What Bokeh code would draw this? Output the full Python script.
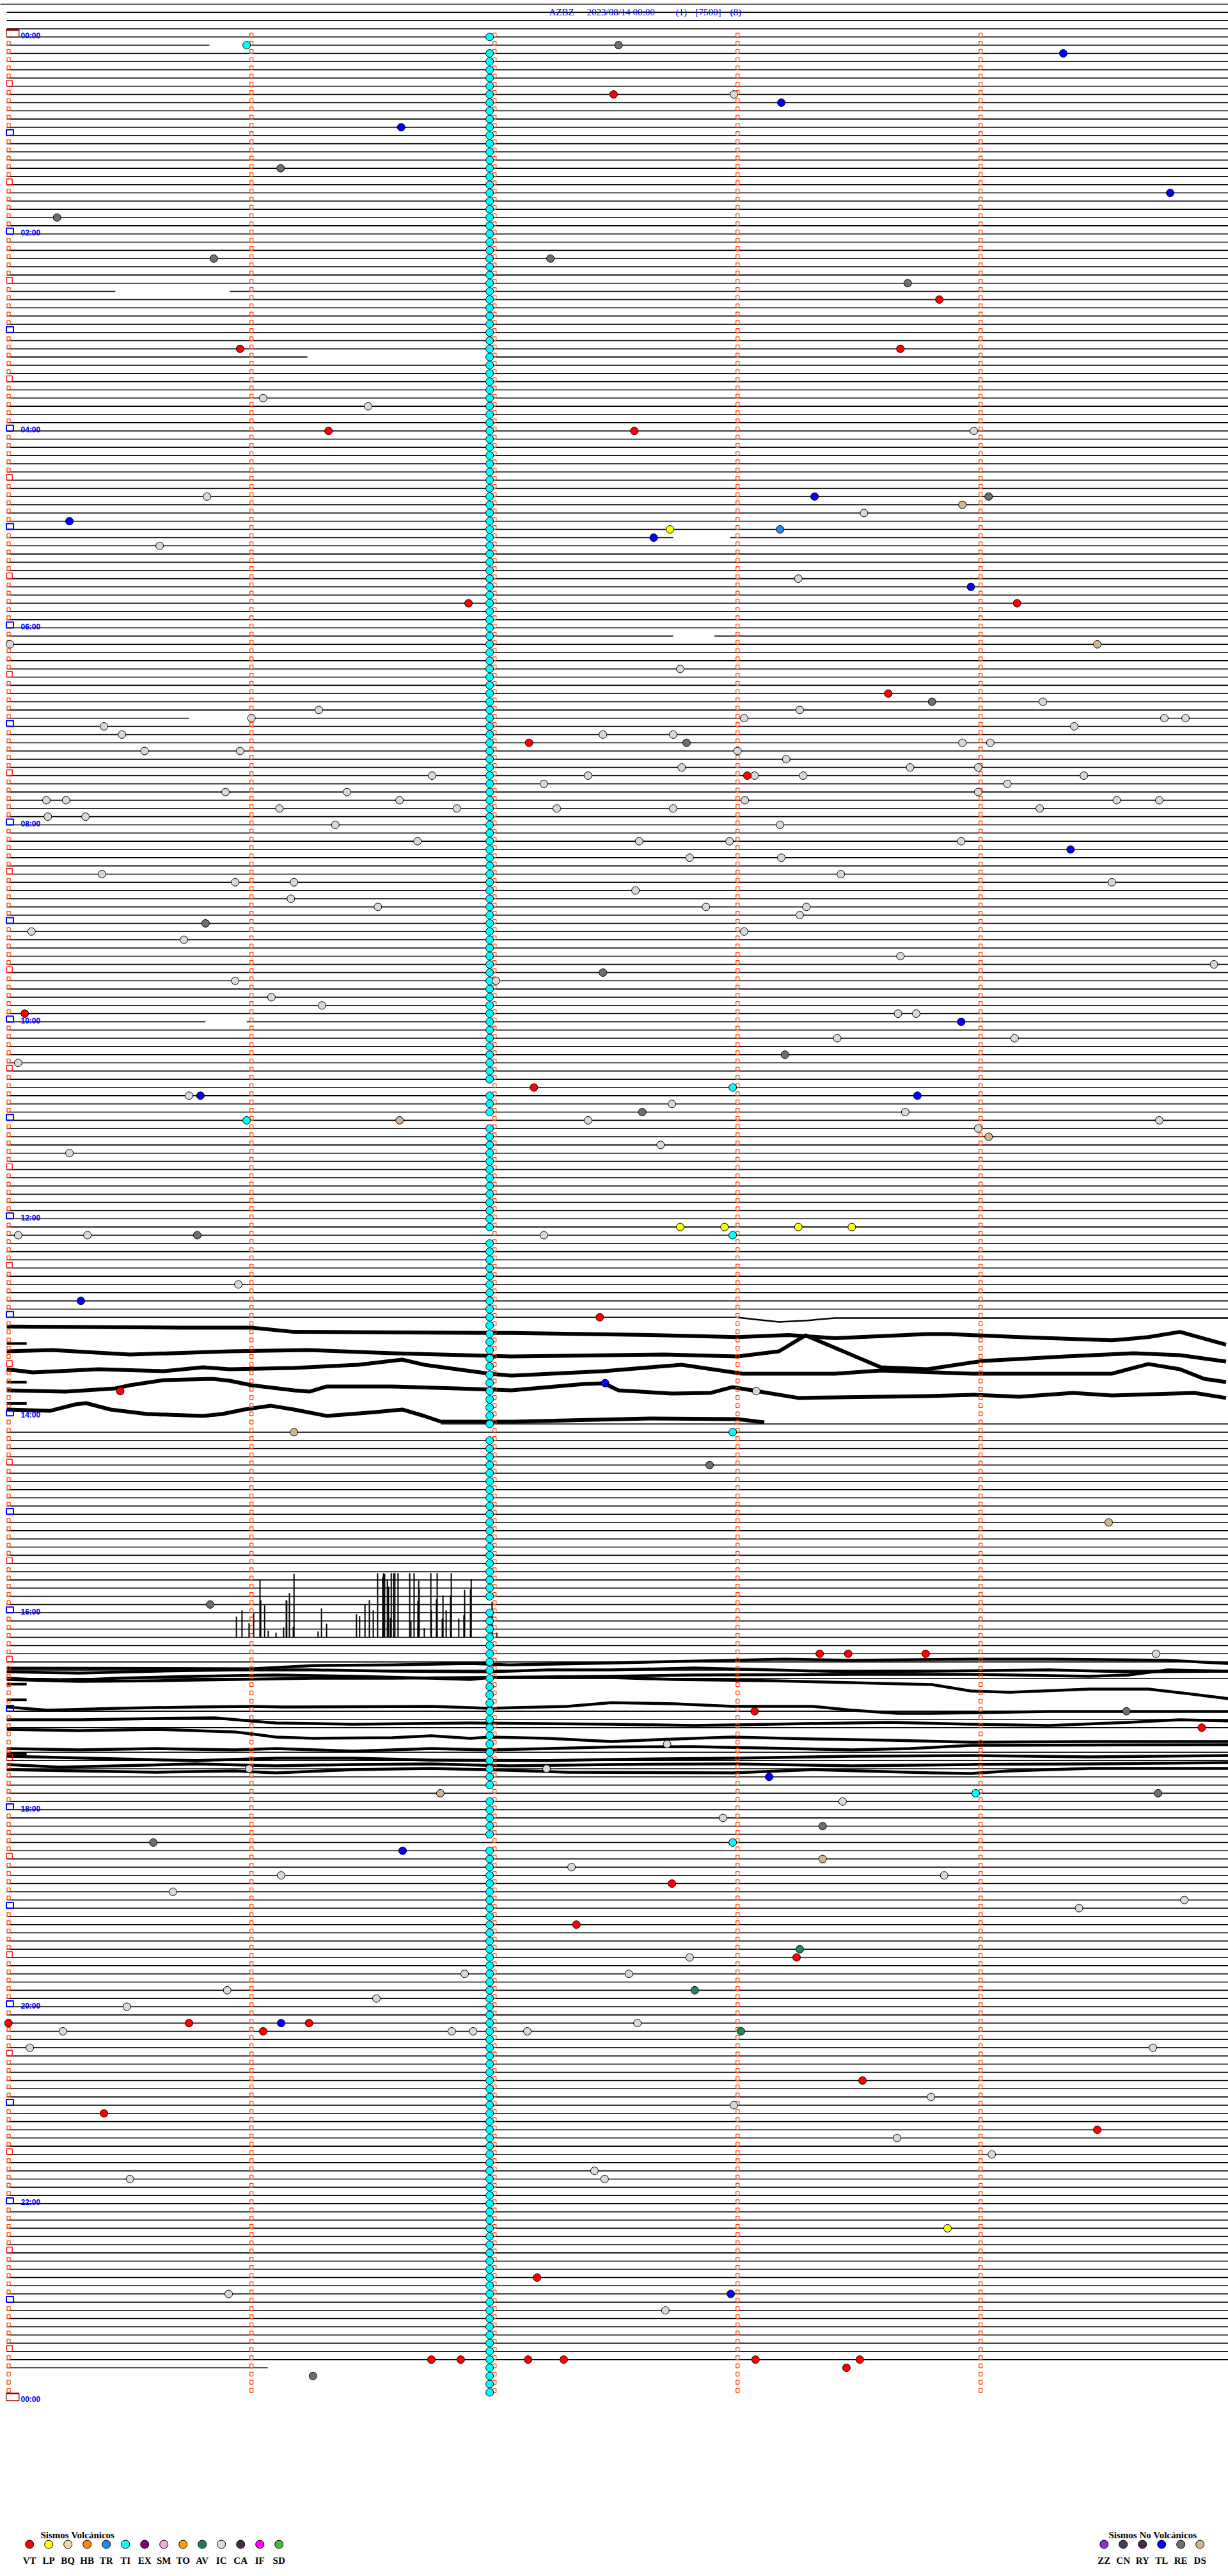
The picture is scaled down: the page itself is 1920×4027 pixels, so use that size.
from bokeh.plotting import figure
from bokeh.models import Range1d
from bokeh.core.properties import value
from bokeh.embed import file_html
from bokeh.resources import INLINE

# ------------------------------------------------------------------ data
TITLE_PARTS = ["AZBZ", "2023/08/14 00:00", "(1)", "[7500]", "(8)"]
HOUR_LABELS = ["00:00", "02:00", "04:00", "06:00", "08:00", "10:00", "12:00",
               "14:00", "16:00", "18:00", "20:00", "22:00", "00:00"]
ROW_MINUTES = 5            # each helicorder row = 5 minutes
ROWS_PER_HOUR = 12
FIRST_ROW = -4
LAST_ROW = 284
ROW_T0, ROW_T1 = -0.007, 5.02

# rows whose flat trace is replaced by a displaced/noisy trace
ROWS_NO_FLAT = list(range(157, 169)) + [201, 202, 203, 207, 208]
# partial rows (start, end) in minutes
ROW_SPANS = {-4: (-0.04, ROW_T1), 156: (ROW_T0, 3.0), 169: (1.78, ROW_T1), 284: (ROW_T0, 1.067)}
# data gaps (row, t_start, t_end)
ROW_GAPS = [(1, 0.827, 0.967), (31, 0.44, 0.91), (39, 1.23, 1.99),
            (61, 2.735, 2.97), (73, 2.735, 2.905), (83, 0.743, 0.988),
            (120, 0.811, 0.98)]

# noisy traces: row, times (min), offsets (rows, + = down)
TR_156 = dict(row=156, w=2.5,
              t=[3.0, 3.07, 3.17, 3.28, 3.40, 5.02],
              off=[0.02, 0.25, 0.56, 0.41, 0.09, 0.09])
TR_157 = dict(row=157, w=6,
              t=[-0.007, 0.70, 1.0, 1.175, 1.98, 2.07, 2.64, 3.0, 3.21, 3.40, 3.78, 3.87, 4.16, 4.54, 4.69, 4.82, 5.01],
              off=[0.13, 0.26, 0.26, 0.78, 0.90, 0.90, 1.16, 1.42, 1.16, 1.55, 1.05, 1.05, 1.42, 1.81, 1.42, 0.78, 2.34])
TR_159 = dict(row=159, w=6,
              t=[-0.007, 0.18, 0.50, 0.91, 1.23, 1.58, 2.07, 2.70, 3.0, 3.17, 3.28, 3.59, 3.78, 4.01, 4.35, 4.63, 4.82, 5.01],
              off=[1.15, 0.99, 1.54, 1.15, 0.99, 1.38, 1.77, 1.54, 1.77, 1.15, -0.80, 3.09, 3.33, 2.31, 1.77, 1.38, 1.61, 2.39])
TR_162 = dict(row=162, w=6,
              t=[-0.007, 0.10, 0.37, 0.64, 0.80, 0.91, 1.175, 1.44, 1.62, 1.71, 1.845, 1.98, 2.07, 2.45, 2.77, 3.02, 3.40, 3.59, 3.97, 4.54, 4.69, 4.82, 4.92, 5.01],
              off=[0.33, 0.72, 0.33, 0.56, 0.09, 0.33, 0.17, -0.22, -0.84, -0.22, 0.33, 0.87, 1.11, 0.56, -0.22, 0.87, 0.87, 0.48, 0.87, 0.87, -0.30, 0.33, 1.50, 1.89])
TR_165 = dict(row=165, w=6,
              t=[-0.007, 0.235, 0.44, 0.50, 0.64, 0.84, 0.91, 1.0, 1.175, 1.24, 1.31, 1.58, 1.845, 2.07, 2.37, 2.45, 2.51, 2.73, 2.89, 2.98, 3.06, 3.25, 3.78, 3.97, 4.16, 4.38, 4.54, 4.88, 5.01],
              off=[-0.10, 0.05, -0.34, -0.72, -1.35, -1.50, -1.27, -0.72, -0.10, 0.05, -0.57, -0.57, -0.34, -0.10, -0.88, -0.96, -0.10, 0.29, 0.21, -0.49, -0.10, 0.83, 0.60, 0.44, 0.68, 0.21, 0.52, 0.21, 0.83])
TR_168 = dict(row=168, w=6,
              t=[-0.007, 0.17, 0.275, 0.32, 0.42, 0.57, 0.80, 0.88, 0.97, 1.08, 1.175, 1.31, 1.51, 1.62, 1.71, 1.78, 2.07, 2.64, 3.0, 3.11],
              off=[-0.76, -0.60, -1.38, -1.54, -0.76, -0.21, 0.02, -0.21, -0.76, -1.22, -0.76, 0.02, -0.44, -0.76, 0.02, 0.72, 0.72, 0.34, 0.41, 0.80])
TR_200 = dict(row=200, w=4.5,
              t=[-0.007, 0.29, 0.61, 0.93, 1.256, 1.58, 1.90, 2.48, 2.82, 3.47, 3.96, 4.45, 4.61, 4.77, 5.02],
              off=[0.13, 0.37, 0.29, 0.13, -0.02, -0.02, -0.10, -0.26, -0.41, -0.49, -0.49, -0.26, -0.41, -1.04, -0.88])
TR_201 = dict(row=201, w=4.5,
              t=[-0.007, 1.0, 1.256, 1.58, 1.90, 2.06, 2.48, 3.19, 3.47, 3.96, 4.28, 4.77, 5.02],
              off=[-2.26, -2.18, -2.57, -2.65, -2.81, -2.65, -2.88, -3.35, -3.20, -3.35, -3.35, -3.20, -2.81])
TR_202 = dict(row=202, w=4.5,
              t=[-0.007, 0.29, 0.61, 0.93, 1.256, 1.58, 1.98, 2.22, 2.48, 2.82, 3.14, 3.47, 3.80, 4.28, 4.61, 5.02],
              off=[-2.80, -2.64, -2.88, -3.03, -3.03, -2.88, -2.80, -3.03, -3.03, -3.27, -3.03, -2.80, -2.88, -3.03, -2.80, -2.88])
TR_203 = dict(row=203, w=4.5,
              t=[-0.007, 0.21, 0.45, 0.77, 1.10, 1.42, 1.74, 1.90, 1.98, 2.48, 2.74, 3.14, 3.80, 3.96, 4.12, 4.45, 4.69, 4.85, 5.02],
              off=[-3.02, -2.71, -3.02, -3.26, -3.41, -3.26, -3.02, -2.87, -3.10, -3.10, -2.87, -2.71, -2.24, -1.47, -1.31, -1.70, -1.70, -1.15, -0.53])
TR_204 = dict(row=204, w=4.5,
              t=[-0.007, 0.16, 0.45, 0.77, 1.0, 1.13, 1.74, 1.98, 2.30, 2.48, 2.74, 2.98, 3.31, 3.47, 3.66, 3.80, 3.96, 4.28, 4.61, 5.02],
              off=[-0.51, -0.12, -0.36, -0.51, -0.59, -0.51, -0.59, -0.36, -0.59, -1.05, -0.90, -0.59, -0.59, -0.12, 0.27, 0.27, 0.19, 0.03, 0.03, 0.03])
TR_205 = dict(row=205, w=4.5,
              t=[-0.007, 0.29, 0.61, 0.85, 1.0, 1.10, 1.42, 1.90, 2.48, 2.82, 3.14, 3.63, 3.96, 4.28, 4.61, 4.82, 5.02],
              off=[0.04, 0.04, -0.12, -0.19, 0.19, 0.43, 0.58, 0.43, 0.58, 0.74, 0.58, 0.35, 0.58, 0.74, 0.35, 0.04, 0.19])
TR_206 = dict(row=206, w=4.5,
              t=[-0.007, 0.29, 0.61, 0.77, 0.93, 1.0, 1.10, 1.256, 1.58, 1.74, 1.90, 1.98, 2.22, 2.48, 2.82, 2.98, 3.31, 3.63, 3.96, 4.45, 5.02],
              off=[0.21, 0.37, 0.21, 0.37, 0.52, 0.76, 1.15, 1.30, 1.22, 0.99, 1.30, 1.15, 1.30, 1.69, 1.30, 1.15, 1.38, 1.54, 1.77, 1.69, 1.69])
TR_208 = dict(row=208, w=4.5,
              t=[-0.007, 0.29, 0.61, 0.93, 1.10, 1.42, 1.74, 1.98, 2.22, 2.48, 2.82, 3.22, 3.47, 3.71, 3.96, 5.02],
              off=[0.55, 0.70, 0.55, 0.70, 0.55, 0.86, 0.55, 0.70, 0.55, 0.35, 0.31, 0.55, 0.70, 0.55, 0.16, 0.08])
TR_210 = dict(row=210, w=4.5,
              t=[-0.007, 0.77, 1.10, 1.42, 1.74, 2.22, 2.48, 2.98, 3.47, 3.96, 4.45, 5.02],
              off=[-0.52, 0.02, -0.29, -0.29, -0.05, 0.02, -0.13, -0.29, -0.52, -0.60, -0.44, -0.60])
TR_211 = dict(row=211, w=4.5,
              t=[-0.007, 0.21, 0.45, 0.77, 1.10, 1.42, 1.74, 2.06, 2.48, 2.98, 3.47, 3.96, 4.45, 5.02],
              off=[-0.51, -0.19, -0.35, -0.58, -0.35, -0.51, -0.58, -0.35, -0.51, -0.58, -0.35, -0.51, -0.58, -0.74])
TR_212 = dict(row=212, w=4.5,
              t=[-0.007, 0.29, 0.61, 0.93, 1.10, 1.42, 1.74, 2.06, 2.30, 2.98, 3.31, 3.80, 3.96, 4.12, 4.45, 5.02],
              off=[-0.88, -0.72, -0.57, -0.72, -0.49, -0.88, -1.04, -0.80, -0.57, -0.49, -0.88, -0.49, -0.41, -0.72, -1.04, -1.04])
TRACES = [TR_156, TR_157, TR_159, TR_162, TR_165, TR_168, TR_200, TR_201, TR_202,
          TR_203, TR_204, TR_205, TR_206, TR_208, TR_210, TR_211, TR_212]
# short wrap stubs at row start (row, offset)
STUBS = [(159, 0.2), (162, 0.5), (164, -0.1), (166, 0.5), (200, 0.7), (202, 0.6), (209, 0.2)]
STUB_T = (ROW_T0, 0.075)

# spikes on row 195 (16:15): time (min), amplitude (rows)
SPIKE_ROW = 195
SPIKE_T = [0.938, 0.961, 0.990, 1.009, 1.035, 1.038, 1.054, 1.069, 1.101, 1.132, 1.143, 1.145,
           1.156, 1.175, 1.172, 1.274, 1.288, 1.309, 1.432, 1.445, 1.467, 1.485, 1.501, 1.519,
           1.540, 1.543, 1.548, 1.559, 1.564, 1.572, 1.575, 1.585, 1.590, 1.603, 1.651, 1.656,
           1.669, 1.685, 1.685, 1.688, 1.690, 1.711, 1.738, 1.740, 1.761, 1.764, 1.785, 1.788,
           1.801, 1.819, 1.822, 1.853, 1.874, 1.877, 1.901, 1.904, 1.990, 2.009]
SPIKE_AMP = [2.52, 3.30, 1.74, 2.91, 6.96, 4.54, 3.92, 0.80, 0.57, 1.19, 4.54, 4.46,
             5.40, 7.74, 1.27, 0.72, 3.53, 1.66, 2.83, 2.60, 4.08, 4.54, 3.30, 7.82,
             7.35, 7.82, 7.74, 7.04, 6.18, 2.36, 7.82, 7.82, 7.82, 7.82, 7.82, 1.97,
             7.82, 1.35, 4.46, 6.88, 6.02, 1.12, 7.82, 3.30, 4.62, 7.82, 2.28, 5.09,
             3.30, 5.09, 7.82, 2.28, 2.68, 5.79, 5.87, 7.12, 4.31, 0.57]

# periodic TI events: one per row at this minute, except shifted / missing rows
TI_COLUMN_T = 1.98
TI_ROWS = (0, 287)
TI_SHIFTED = [(1, 0.98), (128, 2.98), (132, 0.98), (146, 2.98), (170, 2.98), (214, 3.98), (220, 2.98)]
TI_MISSING = [191]

# events (row, minute)
VT = [(7, 2.49), (32, 3.83), (38, 0.953), (38, 3.67), (48, 1.317), (48, 2.575), (69, 1.893),
      (69, 4.15), (80, 3.62), (86, 2.142), (90, 3.04), (119, 0.067), (128, 2.162), (156, 2.433),
      (165, 0.46), (197, 3.338), (197, 3.455), (197, 3.774), (204, 3.07), (206, 4.91), (225, 2.73),
      (230, 2.337), (234, 3.243), (242, 0.0), (242, 0.743), (242, 1.237), (243, 1.048), (249, 3.514),
      (253, 0.393), (255, 4.48), (273, 2.175), (283, 1.74), (283, 1.861), (283, 2.138), (283, 2.285),
      (283, 3.074), (283, 3.503), (284, 3.448)]
LP = [(60, 2.722), (145, 2.764), (145, 2.946), (145, 3.25), (145, 3.47), (267, 3.864)]
TR = [(60, 3.175)]
AV = [(233, 3.256), (238, 2.824), (243, 3.014)]
TL = [(2, 4.34), (8, 3.18), (11, 1.616), (19, 4.78), (56, 3.317), (59, 0.251), (61, 2.655),
      (67, 3.96), (99, 4.37), (120, 3.92), (129, 3.74), (129, 0.79), (154, 0.298), (164.02, 2.455),
      (212, 3.13), (221, 1.622), (242, 1.122), (275, 2.972)]
RE = [(1, 2.51), (16, 1.12), (22, 0.20), (27, 0.845), (27, 2.23), (30, 3.70), (56, 4.033),
      (81, 3.80), (86, 2.79), (108, 0.811), (114, 2.446), (124, 3.195), (131, 2.608), (146, 0.777),
      (174, 2.885), (191, 0.83), (204, 4.60), (214, 4.73), (218, 3.35), (220, 0.596), (285, 1.253)]
DS = [(57, 3.925), (74, 4.48), (132, 1.609), (134, 4.033), (170, 1.175), (181, 4.527),
      (214, 1.777), (222, 3.35)]
IC = [(7, 2.985), (44, 1.048), (45, 1.48), (48, 3.972), (56, 0.817), (58, 3.52), (62, 0.622),
      (66, 3.25), (74, 0.006), (77, 2.764), (81, 4.256), (82, 1.277), (83, 1.0), (84, 0.393),
      (85, 0.467), (83, 4.756), (83, 4.843), (84, 4.385), (85, 2.735), (83, 3.027), (85, 2.446),
      (82, 3.256), (86, 3.925), (86, 4.04), (87, 0.56), (87, 0.953), (87, 3.0), (88, 3.2),
      (89, 2.77), (89, 3.71), (89, 3.99), (90, 1.743), (90, 2.385), (90, 3.07), (90, 3.27),
      (90, 4.425), (91, 2.203), (91, 4.11), (92, 0.893), (92, 1.393), (92, 3.99), (93, 0.156),
      (93, 0.237), (93, 1.609), (94, 1.115), (94, 1.845), (94, 2.256), (94, 2.735), (94, 4.243),
      (93, 4.56), (93, 4.735), (93, 3.03), (95, 0.162), (95, 0.317), (96, 1.345), (96, 3.175),
      (98, 3.92), (98, 1.683), (98, 2.595), (98, 2.967), (100, 2.803), (100, 3.18), (102, 0.385),
      (103, 0.933), (103, 1.175), (102, 3.425), (103, 4.54), (104, 2.58), (105, 1.162), (106, 1.52),
      (106, 2.87), (106, 3.283), (107, 3.256), (109, 3.027), (109, 0.095), (110, 0.722), (112, 3.67),
      (113, 4.96), (115, 0.933), (115, 2.006), (117, 1.082), (118, 1.29), (119, 3.66), (119, 3.735),
      (125, 0.04), (122, 3.41), (122, 4.14), (129, 0.743), (130, 2.73), (131, 3.69), (132, 2.385),
      (132, 4.735), (133, 3.99), (135, 2.683), (136, 0.251), (146, 0.04), (146, 0.325), (146, 2.203),
      (152, 0.946), (165, 3.077), (197, 4.722), (208, 2.71), (211, 0.99), (211, 2.214), (215, 3.432),
      (217, 2.94), (223, 2.317), (224, 3.85), (224, 1.122), (226, 0.677), (227, 4.838), (228, 4.405),
      (234, 2.803), (236, 2.553), (236, 1.877), (238, 0.9), (239, 1.514), (240, 0.487), (243, 0.224),
      (243, 1.824), (243, 1.912), (243, 2.135), (242, 2.588), (245, 0.088), (245, 4.709), (251, 3.796),
      (252, 2.985), (256, 3.656), (258, 4.046), (260, 2.411), (261, 2.453), (261, 0.5), (275, 0.906),
      (277, 2.703)]

VOLC_TYPES = ["VT", "LP", "BQ", "HB", "TR", "TI", "EX", "SM", "TO", "AV", "IC", "CA", "IF", "SD"]
VOLC_COLORS = ["#ff0000", "#ffff00", "#eedc9c", "#ff8410", "#2088ee", "#00ffff", "#800080",
               "#eeaade", "#ffa000", "#1e7a5a", "#dcdcdc", "#4a2848", "#ff00ff", "#38c038"]
NOVOLC_TYPES = ["ZZ", "CN", "RY", "TL", "RE", "DS"]
NOVOLC_COLORS = ["#8a30d8", "#4a3a5a", "#4b2848", "#0000ff", "#6e6e6e", "#d4b48c"]
EVENT_COLORS = {"VT": "#ff0000", "LP": "#ffff00", "TR": "#2088ee", "TI": "#00ffff",
                "AV": "#1e8a5a", "IC": "#d8d8d8", "TL": "#0000ff", "RE": "#6e6e6e",
                "DS": "#d4b48c"}

# ------------------------------------------------------------------ geometry
PAGE = 0                      # bokeh's page template has no body margin
FIG_W, FIG_H = 1920, 4027
X0, PX_MIN = 12.7, 380.0      # page x of minute 0, px per minute
Y0, PX_ROW = 57.3, 12.83      # page y of row 0, px per row


def ax(page_x):
    return (page_x - X0) / PX_MIN


def ay(page_y):
    return (page_y - Y0) / PX_ROW


def dy(px):
    return px / PX_ROW


p = figure(width=FIG_W, height=FIG_H, output_backend="svg", toolbar_location=None,
           x_range=Range1d(ax(PAGE), ax(PAGE + FIG_W)),
           y_range=Range1d(ay(PAGE + FIG_H), ay(PAGE)),
           x_axis_type=None, y_axis_type=None, min_border=0)
p.grid.visible = False
p.outline_line_color = None
p.background_fill_color = "white"
p.border_fill_color = "white"

ORANGE = "#ff4000"
BLUE = "#0000ff"

# flat trace lines
xs, ys = [], []
for r in range(FIRST_ROW, LAST_ROW + 1):
    if r in ROWS_NO_FLAT:
        continue
    a, b = ROW_SPANS.get(r, (ROW_T0, ROW_T1))
    segs = [(a, b)]
    for gr, g0, g1 in ROW_GAPS:
        if gr == r:
            new = []
            for s0, s1 in segs:
                if g1 <= s0 or g0 >= s1:
                    new.append((s0, s1))
                else:
                    if g0 > s0:
                        new.append((s0, g0))
                    if g1 < s1:
                        new.append((g1, s1))
            segs = new
    for s0, s1 in segs:
        xs.append([s0, s1])
        ys.append([r, r])
p.multi_line(xs, ys, line_color="black", line_width=1.6)

# noisy traces
for tr in TRACES:
    p.line(tr["t"], [tr["row"] + o for o in tr["off"]], line_color="black",
           line_width=tr["w"], line_join="round")
p.multi_line([list(STUB_T) for _ in STUBS], [[r + o, r + o] for r, o in STUBS],
             line_color="black", line_width=4)

# spikes
p.segment(x0=SPIKE_T, y0=[SPIKE_ROW] * len(SPIKE_T), x1=SPIKE_T,
          y1=[SPIKE_ROW - a for a in SPIKE_AMP], line_color="black", line_width=2)

# minute markers on the rows
mx, my = [], []
for r in range(0, 288):
    for k in range(1, ROW_MINUTES):
        mx.append(k)
        my.append(r - dy(3))
bx, byy, rx, ry = [], [], [], []
for r in range(1, 288):
    if r % ROWS_PER_HOUR == 0:
        bx.append(ax(15)); byy.append(r - dy(4.5))
    elif r % ROWS_PER_HOUR == ROWS_PER_HOUR // 2:
        rx.append(ax(14.3)); ry.append(r - dy(4.5))
    else:
        mx.append(ax(13)); my.append(r - dy(3))
p.rect(mx, my, width=5, height=6, width_units="screen", height_units="screen",
       fill_alpha=0, line_color=ORANGE, line_width=1.3)
p.rect(bx, byy, width=11, height=9, width_units="screen", height_units="screen",
       fill_alpha=0, line_color=BLUE, line_width=2)
p.rect(rx, ry, width=8.7, height=9, width_units="screen", height_units="screen",
       fill_alpha=0, line_color="#ff0000", line_width=1.3)
day_rows = [0, 288]
p.rect([ax(19.3)] * 2, [r - dy(5.5) for r in day_rows], width=20, height=11,
       width_units="screen", height_units="screen", fill_alpha=0,
       line_color="#8b0000", line_width=1.3)
p.segment(x0=[ax(9.3)] * 2, x1=[ax(29.3)] * 2, y0=[r - dy(11) for r in day_rows],
          y1=[r - dy(11) for r in day_rows], line_color="#8b0000", line_width=2.5)

# hour labels
p.text(x=[ax(32)] * len(HOUR_LABELS),
       y=[i * 2 * ROWS_PER_HOUR - dy(1.5) for i in range(len(HOUR_LABELS))],
       text=HOUR_LABELS, text_font=value("Liberation Sans"), text_font_style="bold",
       text_font_size="12px", text_color=BLUE, text_baseline="alphabetic")

# TI column
shifted_rows = [r for r, _ in TI_SHIFTED]
ti_rows = [r for r in range(TI_ROWS[0], TI_ROWS[1] + 1)
           if r not in shifted_rows and r not in TI_MISSING]
ti_x = [TI_COLUMN_T] * len(ti_rows) + [t for _, t in TI_SHIFTED]
ti_y = ti_rows + shifted_rows
p.scatter(ti_x, ti_y, size=12, marker="circle", fill_color=EVENT_COLORS["TI"],
          line_color="black", line_width=1)

# other events
for name, ev in [("IC", IC), ("RE", RE), ("DS", DS), ("TL", TL), ("TR", TR), ("AV", AV),
                 ("LP", LP), ("VT", VT)]:
    p.scatter([t for _, t in ev], [r for r, _ in ev], size=12, marker="circle",
              fill_color=EVENT_COLORS[name], line_color="black", line_width=1)

# title
title_x = [858, 917, 1056, 1087, 1141]
p.text(x=[ax(v) for v in title_x], y=[ay(18)] * len(TITLE_PARTS), text=TITLE_PARTS,
       text_font=value("Liberation Serif"), text_font_size="15px", text_color=BLUE,
       text_baseline="alphabetic")


# legends
def legend(types, colors, x_first, header, header_x):
    cx = [ax(x_first + 30 * i) for i in range(len(types))]
    p.scatter(cx, [ay(3977)] * len(types), size=13, marker="circle", fill_color=colors,
              line_color="black", line_width=1)
    p.text(x=cx, y=[ay(4002)] * len(types), text=types, text_font=value("Liberation Serif"),
           text_font_style="bold", text_font_size="15px", text_color="black",
           text_align="center", text_baseline="alphabetic")
    p.text(x=[ax(header_x)], y=[ay(3962)], text=[header], text_font=value("Liberation Serif"),
           text_font_style="bold", text_font_size="15px", text_color="black",
           text_baseline="alphabetic")


legend(VOLC_TYPES, VOLC_COLORS, 45.7, "Sismos Volcánicos", 63)
legend(NOVOLC_TYPES, NOVOLC_COLORS, 1725.7, "Sismos No Volcánicos", 1733)

open("out.html", "w").write(file_html(p, INLINE))
